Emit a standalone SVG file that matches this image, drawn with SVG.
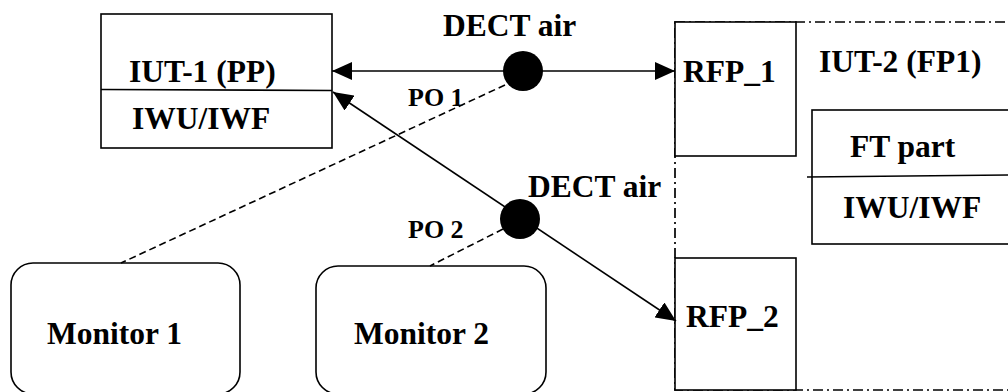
<svg xmlns="http://www.w3.org/2000/svg" width="1008" height="392" viewBox="0 0 1008 392">
<defs>
<style>
.box{fill:#fff;stroke:#000;stroke-width:1.6}
.line{stroke:#000;stroke-width:1.6;fill:none}
.dash{stroke:#000;stroke-width:1.6;fill:none;stroke-dasharray:7 4}
.dashdot{stroke:#000;stroke-width:1.7;fill:none;stroke-dasharray:10 4 2 4}
.t{font-weight:bold;font-size:31.5px;fill:#000}
.s{font-weight:bold;font-size:26px;fill:#000}
.dot{fill:#000}
</style>
<marker id="ah" markerWidth="20" markerHeight="18" refX="20" refY="9" orient="auto-start-reverse" markerUnits="userSpaceOnUse">
<path d="M0,0 L20,9 L0,18 z" fill="#000"/>
</marker>
</defs>
<rect width="1008" height="392" fill="#fff"/>
<g font-family="'Liberation Serif', 'Times New Roman', serif">

<g id="iut2-boundary">
<rect class="dashdot" x="675" y="22" width="400" height="368"/>
<text class="t" x="819" y="72">IUT-2 (FP1)</text>
</g>

<g id="iut1">
<rect class="box" x="101" y="14" width="231" height="134"/>
<line class="line" x1="101" y1="89.5" x2="332" y2="90.5"/>
<text class="t" x="129" y="82">IUT-1 (PP)</text>
<text class="t" x="132" y="129">IWU/IWF</text>
</g>

<g id="rfp1">
<rect class="box" x="675" y="22" width="121" height="134"/>
<text class="t" x="683" y="82">RFP_1</text>
</g>

<g id="ftpart">
<rect class="box" x="812" y="110" width="220" height="134"/>
<line class="line" x1="807" y1="177" x2="1008" y2="175"/>
<text class="t" x="850" y="157">FT part</text>
<text class="t" x="843" y="218">IWU/IWF</text>
</g>

<g id="rfp2">
<rect class="box" x="675" y="258" width="121" height="132"/>
<text class="t" x="686" y="327">RFP_2</text>
</g>

<g id="monitor1">
<rect class="box" x="11" y="263" width="229" height="131" rx="22" ry="22"/>
<text class="t" x="47" y="344">Monitor 1</text>
</g>

<g id="monitor2">
<rect class="box" x="316" y="266" width="230" height="128" rx="22" ry="22"/>
<text class="t" x="354" y="344">Monitor 2</text>
</g>

<g id="connectors">
<line class="line" x1="332" y1="71" x2="675" y2="71" marker-start="url(#ah)" marker-end="url(#ah)"/>
<line class="line" x1="333" y1="92" x2="676" y2="321" marker-start="url(#ah)" marker-end="url(#ah)"/>
<line class="dash" x1="505" y1="85" x2="121" y2="263"/>
<line class="dash" x1="503" y1="229" x2="430" y2="266"/>
<circle class="dot" cx="523" cy="71" r="20"/>
<circle class="dot" cx="520" cy="219" r="20"/>
<text class="t" x="443" y="36">DECT air</text>
<text class="s" x="408" y="106">PO 1</text>
<text class="t" x="528" y="197">DECT air</text>
<text class="s" x="408" y="238">PO 2</text>
</g>
</g>
</svg>
